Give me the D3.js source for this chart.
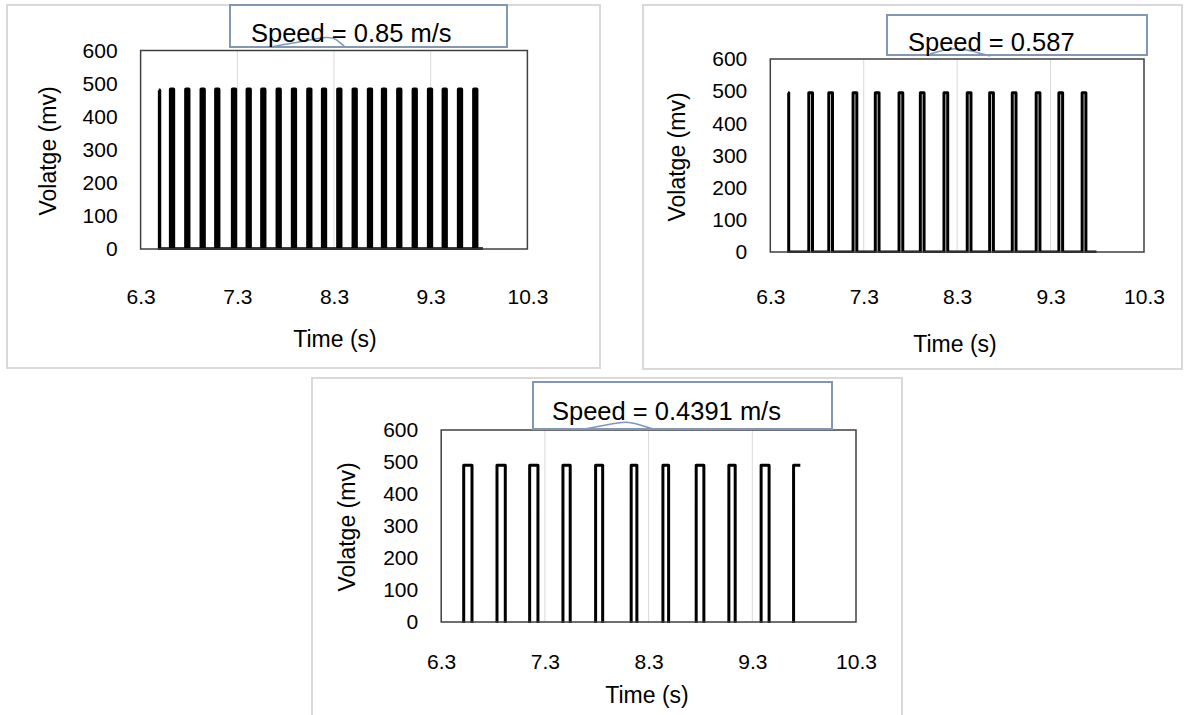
<!DOCTYPE html>
<html lang="en">
<head>
<meta charset="utf-8">
<title>Voltage vs time at three speeds</title>
<script src="https://d3js.org/d3.v7.min.js"></script>
<style>
  body { margin: 0; background: #fff; }
  svg { display: block; font-family: "Liberation Sans", Arial, sans-serif; }
  .tick text { fill: #000; }
</style>
</head>
<body>
<div id="chart"></div>
<script>
// tick values shared by the three panels
var xTicks = [6.3, 7.3, 8.3, 9.3, 10.3];
var yTicks = [0, 100, 200, 300, 400, 500, 600];
var gridTicks = [7.3, 8.3, 9.3];

// panel 1 : speed 0.85 m/s  (edge times, s)
var c1Up = [6.610, 6.768, 6.927, 7.078, 7.251, 7.403, 7.554, 7.713, 7.871, 8.030, 8.182,
            8.340, 8.499, 8.657, 8.802, 8.960, 9.120, 9.278, 9.430, 9.588, 9.746];
var c1Down = [6.496, 6.640, 6.798, 6.957, 7.108, 7.281, 7.433, 7.584, 7.743, 7.901, 8.060,
              8.212, 8.370, 8.529, 8.687, 8.832, 8.990, 9.150, 9.308, 9.460, 9.618, 9.776];
var c1Start = [6.488, 480];
var c1End = [9.84, 0];
var c1High = 483;
var c1Low = 0;

// panel 2 : speed 0.587
var c2Up = [6.712, 6.926, 7.186, 7.424, 7.678, 7.906, 8.159, 8.408, 8.648, 8.890, 9.146, 9.389, 9.638];
var c2Down = [6.497, 6.752, 6.966, 7.226, 7.464, 7.718, 7.946, 8.199, 8.448, 8.688, 8.930, 9.186, 9.429, 9.678];
var c2Start = [6.490, 495];
var c2End = [9.791, 0];
var c2High = 495;
var c2Low = 0;

// panel 3 : speed 0.4391 m/s (low level sits just under the axis)
var c3Up = [6.517, 6.838, 7.153, 7.474, 7.789, 8.132, 8.438, 8.759, 9.074, 9.385, 9.698];
var c3Down = [6.597, 6.918, 7.233, 7.544, 7.857, 8.187, 8.493, 8.833, 9.135, 9.462];
var c3Start = [6.45, -10];
var c3End = [9.763, 490];
var c3High = 490;
var c3Low = -10;

var callouts = ["Speed = 0.85 m/s", "Speed = 0.587", "Speed = 0.4391 m/s"];

var svg = d3.select("#chart").append("svg")
  .attr("width", 1185)
  .attr("height", 715);

// turn edge lists into a step-like line
function buildSeries(ups, downs, start, end, high, low) {
  var ev = ups.map(function(t) { return {t: t, v: high}; })
    .concat(downs.map(function(t) { return {t: t, v: low}; }))
    .sort(function(a, b) { return a.t - b.t; });
  var pts = [start];
  var cur = start[1];
  ev.forEach(function(e) {
    pts.push([e.t, cur]);
    pts.push([e.t, e.v]);
    cur = e.v;
  });
  pts.push([end[0], end[1]]);
  return pts;
}

function drawPanel(cfg, series, label, id) {
  var g = svg.append("g");

  // light frame round the whole chart
  g.append("rect")
    .attr("x", cfg.panel[0]).attr("y", cfg.panel[1])
    .attr("width", cfg.panel[2]).attr("height", cfg.panel[3])
    .attr("fill", "#fff").attr("stroke", "#d9d9d9").attr("stroke-width", 2);

  var x = d3.scaleLinear().domain([6.3, 10.3]).range([cfg.plot[0], cfg.plot[2]]);
  var y = d3.scaleLinear().domain([0, 600]).range([cfg.plot[3], cfg.plot[1]]);

  // vertical gridlines
  g.selectAll(".grid").data(gridTicks).enter().append("line")
    .attr("x1", function(d) { return x(d); }).attr("x2", function(d) { return x(d); })
    .attr("y1", y(600)).attr("y2", y(0))
    .attr("stroke", "#d9d9d9").attr("stroke-width", 1);

  // clip so values under 0 disappear like in the original
  svg.append("clipPath").attr("id", "clip" + id)
    .append("rect")
    .attr("x", x(6.3)).attr("y", y(600) - 4)
    .attr("width", x(10.3) - x(6.3)).attr("height", y(0) - y(600) + 5);

  var line = d3.line()
    .x(function(d) { return x(d[0]); })
    .y(function(d) { return y(d[1]); });

  g.append("path")
    .datum(series)
    .attr("clip-path", "url(#clip" + id + ")")
    .attr("d", line)
    .attr("fill", "none")
    .attr("stroke", "#000")
    .attr("stroke-width", cfg.lineW)
    .attr("stroke-linejoin", "round");

  // plot area border
  g.append("rect")
    .attr("x", x(6.3)).attr("y", y(600))
    .attr("width", x(10.3) - x(6.3)).attr("height", y(0) - y(600))
    .attr("fill", "none").attr("stroke", "#404040").attr("stroke-width", 1.5);

  var yAxis = d3.axisLeft(y).tickValues(yTicks).tickSize(0).tickPadding(23);
  var ya = g.append("g").attr("transform", "translate(" + x(6.3) + ",0)").call(yAxis);
  ya.select(".domain").remove();
  ya.selectAll("text").style("font-size", "21px").style("font-family", "inherit");

  var xAxis = d3.axisBottom(x).tickValues(xTicks).tickSize(0).tickPadding(cfg.xPad)
    .tickFormat(d3.format(".1f"));
  var xa = g.append("g").attr("transform", "translate(0," + y(0) + ")").call(xAxis);
  xa.select(".domain").remove();
  xa.selectAll("text").style("font-size", "21px").style("font-family", "inherit");

  // axis titles
  g.append("text")
    .attr("transform", "translate(" + cfg.yTitle[0] + "," + cfg.yTitle[1] + ") rotate(-90)")
    .attr("text-anchor", "middle").attr("dy", "0.35em")
    .style("font-size", "23px")
    .text("Volatge (mv)");

  g.append("text")
    .attr("x", cfg.xTitle[0]).attr("y", cfg.xTitle[1])
    .attr("text-anchor", "middle").attr("dy", "0.35em")
    .style("font-size", "23px")
    .text("Time (s)");

  // speed call-out box with its small pointer
  g.append("rect")
    .attr("x", cfg.box[0]).attr("y", cfg.box[1])
    .attr("width", cfg.box[2]).attr("height", cfg.box[3])
    .attr("fill", "none").attr("stroke", "#8497b0").attr("stroke-width", 2);

  g.append("path")
    .attr("d", d3.line().curve(d3.curveBasis)(cfg.pointer))
    .attr("fill", "none").attr("stroke", "#7f97bd").attr("stroke-width", 1.5);

  g.append("text")
    .attr("x", cfg.label[0]).attr("y", cfg.label[1])
    .style("font-size", "25.5px")
    .text(label);
}

drawPanel({
  panel: [7, 5, 593, 363],
  plot: [140.6, 50.5, 527.4, 249],
  lineW: 3.4,
  xPad: 40,
  yTitle: [48, 151],
  xTitle: [335, 339],
  box: [230, 5, 277, 42],
  pointer: [[270, 47], [300, 42], [330, 36], [336, 39], [345, 47]],
  label: [251, 42]
}, buildSeries(c1Up, c1Down, c1Start, c1End, c1High, c1Low), callouts[0], 1);

drawPanel({
  panel: [643, 5, 539, 364],
  plot: [770.3, 59, 1144, 252],
  lineW: 3,
  xPad: 37,
  yTitle: [677, 157],
  xTitle: [955, 344],
  box: [887, 15, 260, 40],
  pointer: [[930, 54], [950, 48], [965, 49], [990, 56]],
  label: [908, 51]
}, buildSeries(c2Up, c2Down, c2Start, c2End, c2High, c2Low), callouts[1], 2);

drawPanel({
  panel: [312, 378, 590, 345],
  plot: [441.2, 430, 856, 622],
  lineW: 3,
  xPad: 32,
  yTitle: [347, 527],
  xTitle: [647, 695],
  box: [533, 382, 299, 47],
  pointer: [[585, 429], [606, 425], [627, 421], [640, 425], [653, 429]],
  label: [552, 420]
}, buildSeries(c3Up, c3Down, c3Start, c3End, c3High, c3Low), callouts[2], 3);
</script>
</body>
</html>
